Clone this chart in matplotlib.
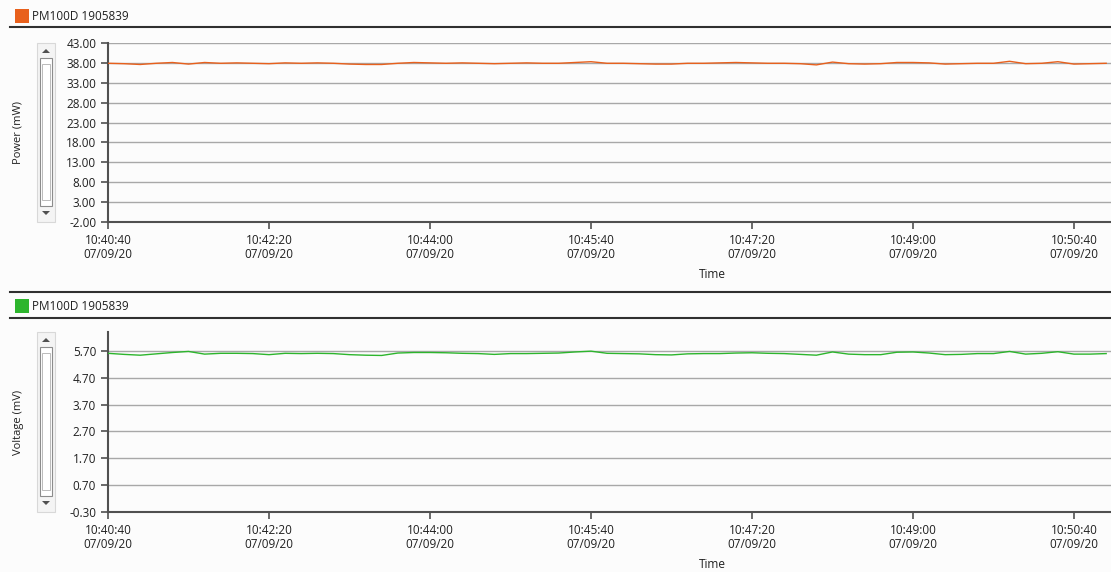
import matplotlib
matplotlib.use("Agg")
import matplotlib.pyplot as plt
import matplotlib.dates as mdates
from matplotlib.patches import Rectangle, Polygon
from matplotlib.lines import Line2D
from datetime import datetime, timedelta

plt.rcParams['font.family'] = ['Open Sans', 'DejaVu Sans']

# ---------------- data ----------------
device_label = "PM100D 1905839"
start_time = datetime(2020, 7, 9, 10, 40, 40)
sample_step_s = 10
power_mw = [37.9, 37.8, 37.6, 37.9, 38.1, 37.7, 38.1, 37.9, 38.0, 37.9,
            37.8, 38.0, 37.9, 38.0, 37.9, 37.7, 37.6, 37.6, 37.9, 38.1,
            38.0, 37.9, 38.0, 37.9, 37.8, 37.9, 38.0, 37.9, 37.9, 38.1,
            38.3, 37.9, 37.9, 37.8, 37.7, 37.7, 37.9, 37.9, 38.0, 38.1,
            38.0, 37.9, 37.9, 37.8, 37.5, 38.2, 37.8, 37.7, 37.8, 38.1,
            38.1, 38.0, 37.7, 37.8, 37.9, 37.9, 38.4, 37.8, 37.9, 38.3,
            37.7, 37.8, 37.9]
voltage_mv = [5.61, 5.57, 5.54, 5.59, 5.64, 5.68, 5.58, 5.61, 5.61, 5.60,
              5.56, 5.61, 5.60, 5.61, 5.60, 5.56, 5.54, 5.53, 5.62, 5.64,
              5.64, 5.63, 5.61, 5.60, 5.57, 5.60, 5.60, 5.61, 5.62, 5.66,
              5.69, 5.61, 5.60, 5.59, 5.56, 5.55, 5.59, 5.60, 5.60, 5.62,
              5.63, 5.61, 5.60, 5.57, 5.54, 5.66, 5.58, 5.56, 5.56, 5.65,
              5.66, 5.62, 5.56, 5.57, 5.60, 5.60, 5.68, 5.58, 5.61, 5.67,
              5.58, 5.58, 5.60]
power_ticks = [-2.0, 3.0, 8.0, 13.0, 18.0, 23.0, 28.0, 33.0, 38.0, 43.0]
voltage_ticks = [-0.30, 0.70, 1.70, 2.70, 3.70, 4.70, 5.70]
times = [start_time + timedelta(seconds=sample_step_s * i) for i in range(len(power_mw))]

orange = "#E8601C"
green = "#2DB52D"

W, H = 1111, 572
fig = plt.figure(figsize=(W / 100, H / 100), dpi=100)
fig.patch.set_facecolor("#FCFCFC")

def fx(x):
    return x / W

def fy(y):
    return 1 - y / H

def panel(ax_top, ax_bot, values, color, ylim, ticks, ylabel, header_y, sep_y, time_y):
    ax = fig.add_axes([fx(108), fy(ax_bot), fx(W - 108), fy(ax_top) - fy(ax_bot)])
    ax.set_facecolor("#FCFCFC")
    ax.plot(times, values, color=color, lw=1.0, zorder=3)
    ax.set_ylim(*ylim)
    ax.set_yticks(ticks)
    ax.set_yticklabels([f"{t:.2f}" for t in ticks])
    ax.set_xlim(start_time, start_time + timedelta(seconds=623))
    ax.set_xticks([start_time + timedelta(seconds=100 * k) for k in range(7)])
    ax.xaxis.set_major_formatter(mdates.DateFormatter("%H:%M:%S\n%m/%d/%y"))
    ax.grid(axis="y", color="#A8A8A8", lw=1.0, zorder=1)
    ax.grid(axis="x", visible=False)
    for s in ("top", "right"):
        ax.spines[s].set_visible(False)
    for s in ("left", "bottom"):
        ax.spines[s].set_color("#505050")
        ax.spines[s].set_linewidth(1.5)
    ax.tick_params(axis="both", colors="#505050", labelcolor="#202020",
                   labelsize=8.5, length=5, width=1.2)
    for lab in ax.get_xticklabels():
        lab.set_horizontalalignment("center")
        lab.set_linespacing(1.1)
    ax.set_xlabel("Time", fontsize=8.5, color="#202020")
    h = ax_bot - ax_top
    ax.xaxis.set_label_coords((712 - 108) / (W - 108), -(time_y - ax_bot) / h)
    ax.xaxis.label.set_verticalalignment("center")
    fig.text(fx(18), fy((ax_top + ax_bot) / 2), ylabel, rotation=90,
             ha="center", va="center", fontsize=8, color="#202020")
    # header
    fig.patches.append(Rectangle((fx(15), fy(header_y + 7)), fx(14), fy(header_y - 7) - fy(header_y + 7),
                                 transform=fig.transFigure, facecolor=color, edgecolor="none"))
    fig.text(fx(32), fy(header_y), device_label, ha="left", va="center",
             fontsize=8.5, color="#202020")
    fig.lines.append(Line2D([fx(10), 1], [fy(sep_y), fy(sep_y)], transform=fig.transFigure,
                            color="#303030", lw=1.5))
    # scroll bar widget
    bx0, bx1 = 37, 55
    fig.patches.append(Rectangle((fx(bx0), fy(ax_bot)), fx(bx1 - bx0), fy(ax_top) - fy(ax_bot),
                                 transform=fig.transFigure, facecolor="#F4F4F4",
                                 edgecolor="#D8D8D8", lw=0.8))
    fig.patches.append(Rectangle((fx(40), fy(ax_bot - 16)), fx(12), fy(ax_top + 15) - fy(ax_bot - 16),
                                 transform=fig.transFigure, facecolor="#FFFFFF",
                                 edgecolor="#8C8C8C", lw=0.8))
    fig.patches.append(Rectangle((fx(42), fy(ax_bot - 22)), fx(8), fy(ax_top + 21) - fy(ax_bot - 22),
                                 transform=fig.transFigure, facecolor="#FFFFFF",
                                 edgecolor="#B0B0B0", lw=0.6))
    cx = (bx0 + bx1) / 2
    ua = ax_top + 8
    fig.patches.append(Polygon([(fx(cx - 4), fy(ua + 2)), (fx(cx + 4), fy(ua + 2)), (fx(cx), fy(ua - 2))],
                               closed=True, transform=fig.transFigure, facecolor="#505050", edgecolor="none"))
    da = ax_bot - 9
    fig.patches.append(Polygon([(fx(cx - 4), fy(da - 2)), (fx(cx + 4), fy(da - 2)), (fx(cx), fy(da + 2))],
                               closed=True, transform=fig.transFigure, facecolor="#505050", edgecolor="none"))
    return ax

panel(43, 222, power_mw, orange, (-2.0, 43.0), power_ticks, "Power (mW)", 16, 27, 274)
panel(332, 512, voltage_mv, green, (-0.30, 5.70 + 19 / 27), voltage_ticks, "Voltage (mV)", 306, 318, 565)

fig.lines.append(Line2D([fx(10), 1], [fy(292), fy(292)], transform=fig.transFigure,
                        color="#303030", lw=1.5))

fig.savefig("out.png", dpi=100, facecolor=fig.get_facecolor())
